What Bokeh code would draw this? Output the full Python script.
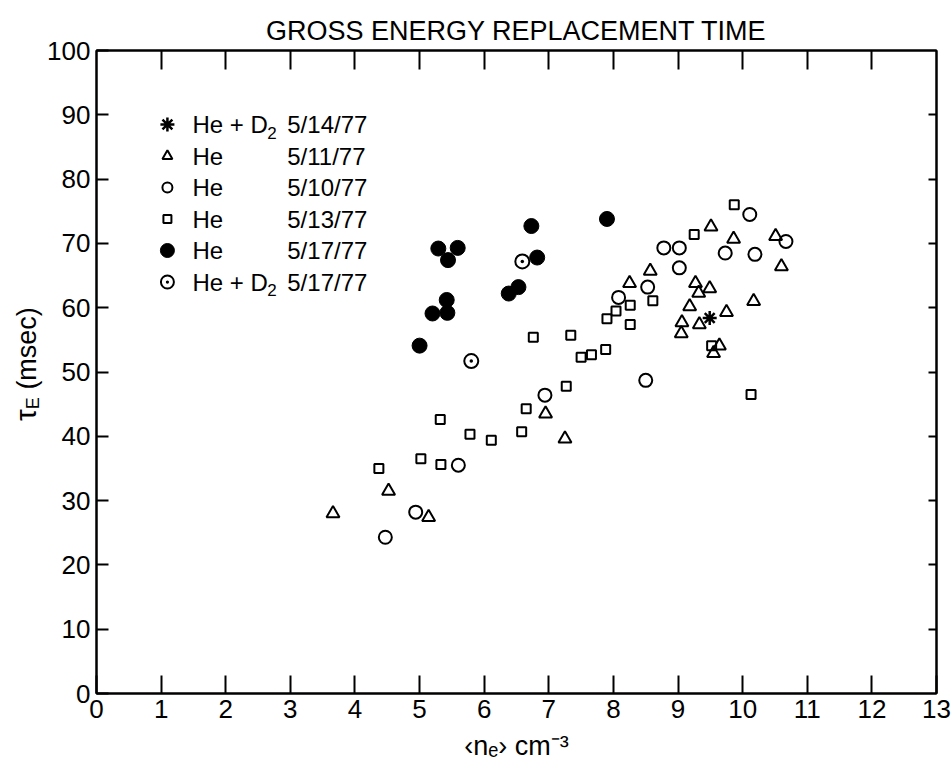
import math
from bokeh.plotting import figure
from bokeh.layouts import row
from bokeh.models import FixedTicker, LinearAxis, Label, ColumnDataSource, Range1d, Div
from bokeh.core.properties import value
from bokeh.embed import file_html
from bokeh.resources import INLINE

# ---------------- data ----------------
x_ticks = list(range(0, 14))
y_ticks = list(range(0, 101, 10))

# He + D2 5/14/77 (asterisk)
star_x = [9.49]
star_y = [58.4]

# He 5/11/77 (open triangles)
tri_x = [3.66, 4.52, 5.14, 6.95, 7.25, 8.25, 8.57, 9.51, 9.86, 10.51, 10.60,
         9.27, 9.49, 9.32, 9.18, 9.06, 9.33, 9.05, 9.75, 10.17, 9.64, 9.55]
tri_y = [28.0, 31.5, 27.4, 43.5, 39.6, 63.8, 65.7, 72.6, 70.7, 71.1, 66.4,
         63.8, 63.0, 62.3, 60.2, 57.7, 57.4, 56.0, 59.3, 61.0, 54.1, 52.9]

# He 5/10/77 (open circles)
cir_x = [4.47, 4.94, 5.60, 6.94, 8.50, 8.08, 8.53, 8.78, 9.02, 9.02, 9.73, 10.11, 10.19, 10.67]
cir_y = [24.3, 28.2, 35.5, 46.4, 48.7, 61.6, 63.2, 69.3, 69.3, 66.2, 68.5, 74.5, 68.3, 70.3]

# He 5/13/77 (open squares)
sq_x = [4.37, 5.02, 5.33, 5.32, 5.78, 6.11, 6.58, 6.65, 6.76, 7.34, 7.50, 7.66,
        7.88, 7.27, 10.13, 9.52, 7.90, 8.04, 8.26, 8.26, 8.61, 9.25, 9.87]
sq_y = [35.0, 36.5, 35.6, 42.6, 40.3, 39.4, 40.7, 44.3, 55.4, 55.7, 52.3, 52.7,
        53.5, 47.8, 46.5, 54.1, 58.3, 59.5, 60.4, 57.4, 61.1, 71.4, 76.0]

# He 5/17/77 (filled circles)
fil_x = [5.00, 5.20, 5.43, 5.42, 6.38, 6.53, 6.82, 7.90, 5.29, 5.59, 5.44, 6.73]
fil_y = [54.1, 59.1, 59.2, 61.2, 62.2, 63.2, 67.8, 73.8, 69.2, 69.3, 67.4, 72.7]

# He + D2 5/17/77 (circled dot)
dot_x = [5.80, 6.59]
dot_y = [51.7, 67.2]

legend_species = ["He + D", "He", "He", "He", "He", "He + D"]
legend_sub = ["2", "", "", "", "", "2"]
legend_dates = ["5/14/77", "5/11/77", "5/10/77", "5/13/77", "5/17/77", "5/17/77"]

title_text = "GROSS ENERGY REPLACEMENT TIME"
x_title = "\u2039n\u2091\u203a cm\u207b\u00b3"
y_title_main = "\u03c4"
y_title_sub = "E"
y_title_unit = "(msec)"

# ---------------- layout constants ----------------
W, H = 951, 777
YL = 44                      # width of the strip holding the y-axis title
BL, BR, BT, BB = 51, 15, 50, 84
MW = W - YL
FW, FH = MW - BL - BR, H - BT - BB
FONT = "Liberation Sans"

def dx(px):
    return (px - YL - BL) / FW * 13.0

def dy(py):
    return (H - BB - py) / FH * 100.0

# ---------------- y-axis title strip (rotated HTML text) ----------------
ytitle_html = (
    '<div style="position:absolute; left:11px; top:421px; transform:rotate(-90deg); '
    'transform-origin:0 0; white-space:nowrap; line-height:30px; color:black; '
    f"font-family:'{FONT}'; font-size:27px;\">"
    f'<span style="font-size:30px">{y_title_main}</span>'
    f'<span style="font-size:18px; position:relative; top:3px">{y_title_sub}</span>'
    f'&nbsp;{y_title_unit}</div>'
)
ylab = Div(text=ytitle_html, width=YL, height=H, margin=0,
           styles={"position": "relative", "overflow": "visible", "background": "white"})

# ---------------- main plot ----------------
p = figure(width=MW, height=H, x_range=Range1d(0, 13), y_range=Range1d(0, 100),
           output_backend="svg", toolbar_location=None, title=title_text,
           min_border_left=BL, min_border_right=BR, min_border_top=BT, min_border_bottom=BB,
           background_fill_color="white", border_fill_color="white")
p.title.align = "center"
p.title.text_font = FONT
p.title.text_font_size = "27px"
p.title.text_font_style = "normal"
p.title.text_color = "black"
p.grid.visible = False
p.outline_line_color = "black"
p.outline_line_width = 2

def style_axis(ax, ticks, tick_in, labels=True):
    ax.ticker = FixedTicker(ticks=ticks)
    ax.major_tick_in = tick_in
    ax.major_tick_out = 0
    ax.minor_tick_line_color = None
    ax.axis_line_color = "black"
    ax.axis_line_width = 2
    ax.major_tick_line_color = "black"
    ax.major_tick_line_width = 2
    if labels:
        ax.major_label_text_font = FONT
        ax.major_label_text_font_size = "26px"
        ax.major_label_text_color = "black"
        ax.major_label_standoff = 6
        ax.axis_label_text_font = FONT
        ax.axis_label_text_font_size = "27px"
        ax.axis_label_text_font_style = "normal"
        ax.axis_label_text_color = "black"
    else:
        ax.major_label_text_font_size = "0px"
        ax.major_label_text_alpha = 0

style_axis(p.xaxis[0], x_ticks, 18)
style_axis(p.yaxis[0], y_ticks, 12)
p.xaxis[0].axis_label = x_title
p.xaxis[0].axis_label_standoff = 10

top_ax = LinearAxis()
style_axis(top_ax, x_ticks[1:-1], 19, labels=False)
p.add_layout(top_ax, "above")
right_ax = LinearAxis()
style_axis(right_ax, y_ticks[1:-1], 8, labels=False)
p.add_layout(right_ax, "right")

# ---------------- data marks ----------------
LW = 2
p.scatter(tri_x, tri_y, marker="triangle", size=13, fill_color=None, line_color="black", line_width=LW)
p.scatter(cir_x, cir_y, marker="circle", size=13, fill_color=None, line_color="black", line_width=LW)
p.scatter(sq_x, sq_y, marker="square", size=9, fill_color=None, line_color="black", line_width=LW)
p.scatter(fil_x, fil_y, marker="circle", size=15, fill_color="black", line_color="black", line_width=1)
p.scatter(dot_x, dot_y, marker="circle_dot", size=14, fill_color="white", line_color="black", line_width=LW)
p.scatter(star_x, star_y, marker="asterisk", size=14, line_color="black", line_width=2.5)

# ---------------- legend ----------------
rows_py = [124, 155.5, 187, 218.5, 250, 281.5]
mk_x = dx(166)
leg = [
    dict(marker="asterisk", size=14, fill_color=None, line_width=2.5),
    dict(marker="triangle", size=10, fill_color=None, line_width=LW),
    dict(marker="circle", size=10, fill_color=None, line_width=LW),
    dict(marker="square", size=8, fill_color=None, line_width=LW),
    dict(marker="circle", size=14, fill_color="black", line_width=1),
    dict(marker="circle_dot", size=13, fill_color="white", line_width=LW),
]
for i, spec in enumerate(leg):
    p.scatter([mk_x], [dy(rows_py[i])], line_color="black", **spec)

leg_src = ColumnDataSource(dict(
    x=[dx(191)] * 6, y=[dy(r) for r in rows_py], t=legend_species))
p.text(x="x", y="y", text="t", source=leg_src, text_font=value(FONT), text_font_size="24px",
       text_baseline="middle", text_align="left", text_color="black")
date_src = ColumnDataSource(dict(
    x=[dx(286)] * 6, y=[dy(r) for r in rows_py], t=legend_dates))
p.text(x="x", y="y", text="t", source=date_src, text_font=value(FONT), text_font_size="24px",
       text_baseline="middle", text_align="left", text_color="black")
for i, s in enumerate(legend_sub):
    if s:
        p.add_layout(Label(x=dx(266), y=dy(rows_py[i] + 8), text=s, text_font=FONT,
                           text_font_size="17px", text_color="black",
                           text_baseline="middle", text_align="left"))

layout = row(ylab, p, spacing=0)
open("out.html", "w").write(file_html(layout, INLINE))
